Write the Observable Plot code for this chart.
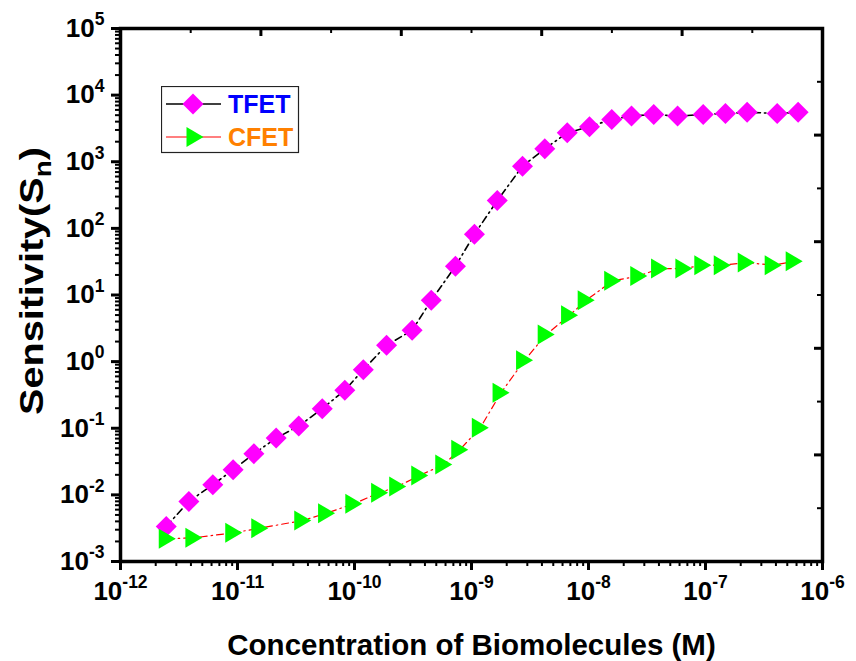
<!DOCTYPE html>
<html><head><meta charset="utf-8">
<script src="https://cdn.jsdelivr.net/npm/d3@7"></script>
<script src="https://cdn.jsdelivr.net/npm/@observablehq/plot@0.6"></script>
<style>
body{margin:0;background:#fff;}
#wrap{position:relative;width:856px;height:661px;font-family:"Liberation Sans",Arial,sans-serif;}
#legend{position:absolute;left:161px;top:86px;}
</style></head><body><div id="wrap"></div>
<script>
// ---- data ----
const tfetConc = [2.46e-12,3.84e-12,6.15e-12,9.18e-12,1.38e-11,2.14e-11,3.34e-11,5.30e-11,8.26e-11,1.19e-10,1.88e-10,3.11e-10,4.53e-10,7.29e-10,1.06e-9,1.66e-9,2.73e-9,4.23e-9,6.58e-9,1.02e-8,1.58e-8,2.33e-8,3.61e-8,5.77e-8,9.55e-8,1.48e-7,2.27e-7,4.10e-7,6.19e-7];
const tfetSens = [3.36e-3,7.96e-3,0.0142,0.0238,0.0415,0.0711,0.108,0.197,0.371,0.758,1.76,2.95,8.33,27.0,81.8,261,859,1563,2721,3349,4325,4845,5140,4845,5140,5320,5510,5320,5510];
const cfetConc = [2.51e-12,4.24e-12,9.29e-12,1.55e-11,3.61e-11,5.77e-11,9.86e-11,1.64e-10,2.34e-10,3.61e-10,5.79e-10,7.94e-10,1.19e-9,1.79e-9,2.84e-9,4.35e-9,6.89e-9,9.55e-9,1.61e-8,2.69e-8,4.05e-8,6.53e-8,9.48e-8,1.39e-7,2.23e-7,3.79e-7,5.73e-7];
const cfetSens = [2.19e-3,2.27e-3,2.70e-3,3.16e-3,4.13e-3,5.31e-3,7.36e-3,0.0108,0.0134,0.0196,0.0286,0.0476,0.102,0.342,1.05,2.55,4.97,8.34,16.3,19.3,24.9,24.9,28.0,28.0,30.7,28.0,32.1];
const xExponents = [-12,-11,-10,-9,-8,-7,-6];
const yExponents = [-3,-2,-1,0,1,2,3,4,5];
const seriesNames = ["TFET","CFET"];
const xTitle = "Concentration of Biomolecules (M)";
const yTitle = "Sensitivity(S_n)";

// ---- derived tables ----
const tfet = tfetConc.map((c,i)=>({c, s: tfetSens[i]}));
const cfet = cfetConc.map((c,i)=>({c, s: cfetSens[i]}));
const xMajor = xExponents.map(e=>Math.pow(10,e));
const yMajor = yExponents.map(e=>Math.pow(10,e));
const minorOf = (exps)=>exps.slice(0,-1).flatMap(e=>d3.range(2,10).map(m=>m*Math.pow(10,e)));
const xMinor = minorOf(xExponents);
const yMinor = minorOf(yExponents);
// top / right mirror axes: evenly spaced (linear) ticks, 10 intervals
const topTicks = d3.range(0,11).map(k=>Math.pow(10, -12 + 0.6*k));
const rightTicks = d3.range(0,11).map(k=>Math.pow(10, 5 - 0.8*k));

const diamond = {draw(ctx,size){const h=Math.sqrt(size/Math.PI);ctx.moveTo(0,-h);ctx.lineTo(h,0);ctx.lineTo(0,h);ctx.lineTo(-h,0);ctx.closePath();}};
const triRight = {draw(ctx,size){const h=Math.sqrt(size/Math.PI);const w=h*0.85;ctx.moveTo(-w,-h);ctx.lineTo(w,0);ctx.lineTo(-w,h);ctx.closePath();}};

const W=856,H=661,mL=120,mR=34,mT=28,mB=100;
const innerH = H-mT-mB;
const innerW = W-mL-mR;
const font = {fontFamily:"Liberation Sans, Arial, sans-serif", fontWeight:"bold"};
const sup = e => "10^" + e;

const chart = Plot.plot({
  width: W, height: H,
  marginLeft: mL, marginRight: mR, marginTop: mT, marginBottom: mB,
  style: {background:"#fff", color:"#000", fontFamily:"Liberation Sans, Arial, sans-serif"},
  x: {type:"log", domain:[1e-12,1e-6]},
  y: {type:"log", domain:[1e-3,1e5]},
  marks: [
    Plot.axisX(xMinor, {tickSize:5, strokeWidth:2, tickFormat:()=>"", label:null}),
    Plot.axisX(xMajor, {tickSize:9, strokeWidth:3, tickPadding:11, tickFormat:d=>sup(Math.round(Math.log10(d))), fontSize:26, ...font, label:null}),
    Plot.axisY(yMinor, {tickSize:5, strokeWidth:2, tickFormat:()=>"", label:null}),
    Plot.axisY(yMajor, {tickSize:9, strokeWidth:3, tickPadding:7, tickFormat:d=>sup(Math.round(Math.log10(d))), fontSize:26, ...font, label:null}),
    Plot.tickX(topTicks, {x:d=>d, stroke:"#000", strokeWidth:3, filter:(d,i)=>i%2===0, insetBottom: innerH-8}),
    Plot.tickX(topTicks, {x:d=>d, stroke:"#000", strokeWidth:2, filter:(d,i)=>i%2===1, insetBottom: innerH-5}),
    Plot.tickY(rightTicks, {y:d=>d, stroke:"#000", strokeWidth:3, filter:(d,i)=>i%2===0, insetLeft: innerW-8}),
    Plot.tickY(rightTicks, {y:d=>d, stroke:"#000", strokeWidth:2, filter:(d,i)=>i%2===1, insetLeft: innerW-5}),
    Plot.line(tfet, {x:"c", y:"s", stroke:"#000", strokeWidth:1.6, strokeDasharray:"7,4,1.5,4"}),
    Plot.line(cfet, {x:"c", y:"s", stroke:"#ff0000", strokeWidth:1.2, strokeDasharray:"7,4,1.5,4"}),
    Plot.dot(tfet, {x:"c", y:"s", symbol:diamond, r:10.5, fill:"#ff00ff", stroke:null}),
    Plot.dot(cfet, {x:"c", y:"s", symbol:triRight, r:10, fill:"#00ff00", stroke:null}),
    Plot.frame({stroke:"#000", strokeWidth:3.5}),
    Plot.text([xTitle], {frameAnchor:"bottom", dy:93, fontSize:29.5, ...font, fill:"#000"}),
    Plot.text([yTitle], {frameAnchor:"left", textAnchor:"middle", dx:-88, dy:-14, rotate:-90, fontSize:34, ...font, fill:"#000", className:"ytitle"})
  ]
});

// superscript / subscript formatting of text
const NS = "http://www.w3.org/2000/svg";
chart.querySelectorAll("text").forEach(t=>{
  const s = t.textContent;
  let m = /^10\^(.+)$/.exec(s);
  if (m) {
    t.textContent = "10";
    const sp = document.createElementNS(NS,"tspan");
    sp.setAttribute("font-size","17.5");
    sp.setAttribute("dy","-11.5");
    sp.textContent = m[1];
    t.appendChild(sp);
    return;
  }
  m = /^(.*)_(.)(.*)$/.exec(s);
  if (m) {
    t.textContent = m[1];
    const sb = document.createElementNS(NS,"tspan");
    sb.setAttribute("font-size","24");
    sb.setAttribute("dy","8");
    sb.textContent = m[2];
    t.appendChild(sb);
    const rest = document.createElementNS(NS,"tspan");
    rest.setAttribute("dy","-8");
    rest.textContent = m[3];
    t.appendChild(rest);
    t.setAttribute("textLength","268");
    t.setAttribute("lengthAdjust","spacingAndGlyphs");
  }
});

const wrap = document.getElementById("wrap");
wrap.appendChild(chart);

// in-plot legend
const colors = {TFET:{line:"#000", fill:"#ff00ff", text:"#0000ff", sym:diamond, r:10.5},
                CFET:{line:"#ff0000", fill:"#00ff00", text:"#ff8000", sym:triRight, r:10}};
const lg = d3.select(wrap).append("svg").attr("id","legend").attr("width",140).attr("height",70);
lg.append("rect").attr("x",0.5).attr("y",0.5).attr("width",137).attr("height",66).attr("fill","#fff").attr("stroke","#222").attr("stroke-width",1.2);
seriesNames.forEach((name,i)=>{
  const c = colors[name], cy = 18 + i*33;
  lg.append("line").attr("x1",5).attr("x2",60).attr("y1",cy).attr("y2",cy).attr("stroke",c.line).attr("stroke-width",name==="TFET"?1.6:1.2);
  lg.append("path").attr("transform",`translate(${name==="TFET"?32:34},${cy})`).attr("d", d3.symbol(c.sym, Math.PI*c.r*c.r)()).attr("fill",c.fill);
  lg.append("text").attr("x",67).attr("y",cy+9).attr("font-size",25).attr("font-weight","bold").attr("font-family","Liberation Sans, Arial, sans-serif").attr("fill",c.text).text(name);
});
</script></body></html>
